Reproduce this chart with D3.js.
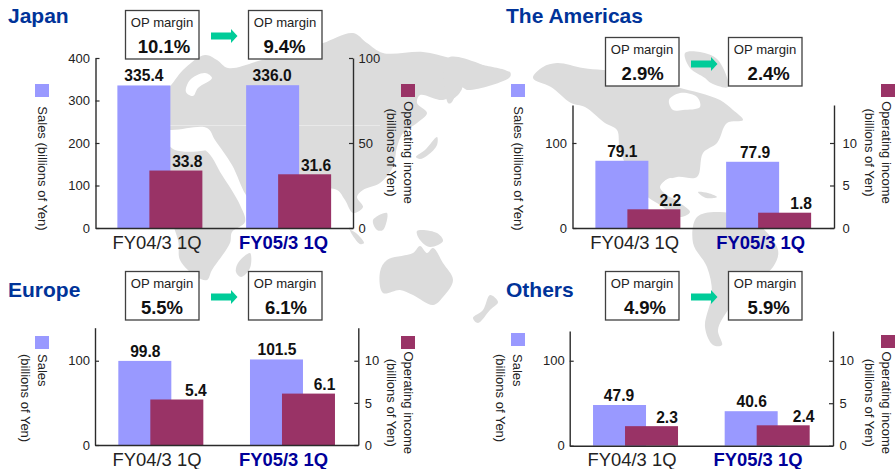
<!DOCTYPE html>
<html><head><meta charset="utf-8">
<script src="https://cdn.jsdelivr.net/npm/d3@7"></script>
<style>
html,body{margin:0;padding:0;background:#fff}
svg{display:block}
text{font-family:"Liberation Sans",Arial,sans-serif}
</style></head><body>
<svg id="c" width="896" height="469"></svg>
<script>
// ---- data ----
const regions = ["Japan", "The Americas", "Europe", "Others"];
const categories = ["FY04/3 1Q", "FY05/3 1Q"];
const salesValues = [[335.4, 336.0], [79.1, 77.9], [99.8, 101.5], [47.9, 40.6]];
const incomeValues = [[33.8, 31.6], [2.2, 1.8], [5.4, 6.1], [2.3, 2.4]];
const marginLabels = [["10.1%", "9.4%"], ["2.9%", "2.4%"], ["5.5%", "6.1%"], ["4.9%", "5.9%"]];
const salesTicks = [[0, 100, 200, 300, 400], [0, 100], [0, 100], [0, 100]];
const incomeTicks = [[0, 50, 100], [0, 5, 10], [0, 5, 10], [0, 5, 10]];
const salesMax = [400, 144.7, 139.2, 135];
const incomeMax = [100, 14.47, 13.92, 13.5];

// ---- layout (separate from the data) ----
const layout = [
 {title:[8,23], l:95.5, r:353, t:58, b:228, boxY:10, valDx:[2,-.5], arrowY:29, boxX:[125,248], arrowX:211,
  cat:[157,283.5], catY:248.5, lblS:[0,-.5], lblI:[11.5,11.5], sq:[35,401], sqY:[84,84], padL:5.5,padR:5.5,
  sales:{x:[37.5], y:168.5, mid:true, one:true}, inc:{y:152.5}, incX:[403.5,387], stack:false},
 {title:[506,22.5], l:572.5, r:834, t:105, b:228, boxY:37, valDx:[.7,3.7], arrowY:57, boxX:[605,728], arrowX:691,
  cat:[634.7,760.7], catY:248.5, lblS:[.5,2.5], lblI:[16.5,16.5], sq:[511,881], sqY:[84,84], padL:5.5,padR:8.5,
  sales:{x:[513.5], y:168.5, mid:true, one:true}, inc:{y:152.5}, incX:[882,865], stack:false},
 {title:[8,297], l:95, r:358.3, t:327.7, b:445, boxY:271, valDx:[0,1], arrowY:290, boxX:[125,248], arrowX:211,
  cat:[157,283.5], catY:465.5, lblS:[.5,.5], lblI:[19,16], sq:[35,401], sqY:[336,336], padL:5,padR:6.5,
  sales:{x:[37.7,20.7], y:354}, inc:{y:402.8}, incX:[403.5,387], stack:true},
 {title:[506,297], l:569.7, r:833, t:331, b:445.7, boxY:271, valDx:[3,3.7], arrowY:290, boxX:[605,728], arrowX:691,
  cat:[632,758], catY:465.5, lblS:[-.5,.5], lblI:[15.5,20.5], sq:[511,881], sqY:[333,335], padL:5,padR:6.5,
  sales:{x:[513,496], y:354}, inc:{y:402.8}, incX:[882,865], stack:true}
];

// decorative world-map background (outline only, not chart data)
const mapLand = [
 [[140,125],[150,96],[168,88],[183,70],[205,55],[217,60],[228,68],[262,60],[300,50],[323,43],[353,33],[367,43],[383,53],[423,52],[450,58],[483,65],[508,72],[500,78],[483,80],[470,82],[457,92],[443,100],[420,95],[417,103],[427,113],[417,123],[403,133],[397,147],[393,167],[380,183],[363,190],[357,197],[363,207],[353,213],[345,200],[337,190],[320,190],[300,205],[290,228],[275,205],[262,214],[246,195],[232,165],[215,140],[207,128],[170,130]],
 [[125,150],[170,141],[205,150],[222,175],[240,205],[245,222],[232,232],[230,243],[212,270],[207,280],[197,277],[180,260],[178,240],[160,200],[125,170]],
 [[238,263],[250,253],[250,268],[241,277],[236,272]],
 [[380,272],[387,260],[413,253],[420,246],[427,253],[433,248],[443,263],[453,280],[443,297],[433,305],[413,295],[400,290],[383,293]],
 [[490,295],[498,302],[490,310],[478,323],[473,318],[483,310]],
 [[417,231],[437,233],[443,241],[430,247],[420,240]],
 [[373,220],[387,213],[383,230],[377,230]],
 [[350,230],[356,233],[364,243],[360,244]],
 [[437,137],[437,145],[428,155],[420,159],[416,157],[425,150]],
 [[450,93],[462,88],[458,95],[450,100]],
 [[533,78],[543,67],[557,63],[583,68],[603,70],[640,72],[677,87],[700,93],[720,100],[733,110],[743,120],[727,123],[717,143],[703,153],[697,177],[677,177],[663,183],[667,193],[680,203],[690,212],[680,217],[660,205],[640,190],[620,150],[617,130],[605,123],[585,107],[571,103],[551,87]],
 [[685,53],[700,52],[718,60],[728,87],[711,83],[705,78],[690,68]],
 [[697,217],[720,212],[755,222],[778,250],[773,267],[745,290],[728,310],[718,330],[722,345],[713,345],[705,327],[712,293],[707,267],[693,243]],
 [[698,192],[708,193],[717,197],[706,198]],
 [[448,58],[500,71],[510,72],[510,77],[468,90],[461,87],[451,103],[448,103]]
];
const mapWater = [
 [[190,80],[205,73],[212,78],[198,88],[193,96],[186,92]],
 [[669,100],[680,93],[697,97],[700,107],[683,110],[673,110]],
 [[165,138],[205,133],[213,147],[175,150]],
 [[660,187],[671,178],[680,197],[672,198]]
];

const svg = d3.select("#c");
const closed = d3.line().curve(d3.curveCatmullRomClosed.alpha(.5));
const map = svg.append("g");
map.selectAll("path.l").data(mapLand).join("path").attr("class","l").attr("d",closed).attr("fill","#dcdcdc");
map.selectAll("path.w").data(mapWater).join("path").attr("class","w").attr("d",closed).attr("fill","#fff");
map.append("line").attr("x1",170).attr("x2",380).attr("y1",125.5).attr("y2",125.5).attr("stroke","#e9e9e9");

const AXIS = "#2b2b2b", SALES = "#9999ff", INCOME = "#993366", BAR = 53, SHIFT = 32, GROUP = 85;

regions.forEach((name, i) => {
  const L = layout[i], g = svg.append("g");
  g.append("text").attr("x",L.title[0]).attr("y",L.title[1]).attr("font-size",21).attr("font-weight","bold")
    .attr("fill","#003399").text(name);

  const x = d3.scaleBand().domain(categories).range([L.l, L.r]);
  const yS = d3.scaleLinear().domain([0, salesMax[i]]).range([L.b, L.t]);
  const yI = d3.scaleLinear().domain([0, incomeMax[i]]).range([L.b, L.t]);
  const gx = c => x(c) + (x.bandwidth() - GROUP) / 2;

  g.selectAll("rect.s").data(categories).join("rect").attr("class","s")
    .attr("x", gx).attr("width", BAR)
    .attr("y", (c,j) => yS(salesValues[i][j])).attr("height", (c,j) => L.b - yS(salesValues[i][j]))
    .attr("fill", SALES);
  g.selectAll("rect.i").data(categories).join("rect").attr("class","i")
    .attr("x", c => gx(c) + SHIFT).attr("width", BAR)
    .attr("y", (c,j) => yI(incomeValues[i][j])).attr("height", (c,j) => L.b - yI(incomeValues[i][j]))
    .attr("fill", INCOME);

  const style = a => {
    a.selectAll("path").attr("stroke", AXIS).attr("stroke-width", 1.4);
    a.selectAll("line").attr("stroke", AXIS).attr("stroke-width", 1.2);
    a.selectAll("text").attr("font-size", 13).attr("fill","#222").attr("font-family",'"Liberation Sans",Arial,sans-serif');
  };
  g.append("g").attr("transform",`translate(${L.l},0)`)
    .call(d3.axisLeft(yS).tickValues(salesTicks[i]).tickFormat(d3.format("d")).tickSizeInner(-4).tickSizeOuter(0).tickPadding(L.padL)).call(style);
  g.append("g").attr("transform",`translate(${L.r},0)`)
    .call(d3.axisRight(yI).tickValues(incomeTicks[i]).tickFormat(d3.format("d")).tickSizeInner(-4).tickSizeOuter(0).tickPadding(L.padR)).call(style);
  g.append("g").attr("transform",`translate(0,${L.b})`)
    .call(d3.axisBottom(x).tickSize(0).tickFormat("")).call(style);

  categories.forEach((c,j) => {
    g.append("text").attr("x",L.cat[j]).attr("y",L.catY).attr("text-anchor","middle").attr("font-size",18.4)
      .attr("font-weight", j ? "bold" : "normal").attr("fill", j ? "#000099" : "#222").text(c);
    const bx = gx(c);
    g.append("text").attr("x",bx + BAR/2 + L.lblS[j]).attr("y",yS(salesValues[i][j]) - 4).attr("text-anchor","middle")
      .attr("font-size",15.6).attr("font-weight","bold").attr("fill","#111").text(salesValues[i][j].toFixed(1));
    g.append("text").attr("x",bx + SHIFT + BAR/2 + L.lblI[j]).attr("y",yI(incomeValues[i][j]) - 3.5).attr("text-anchor","middle")
      .attr("font-size",15.6).attr("font-weight","bold").attr("fill","#111").text(incomeValues[i][j].toFixed(1));

    const bX = L.boxX[j];
    g.append("rect").attr("x",bX+.5).attr("y",L.boxY+.5).attr("width",73.5).attr("height",48.5)
      .attr("fill","#fff").attr("stroke","#404040").attr("stroke-width",1.3);
    g.append("text").attr("x",bX+37).attr("y",L.boxY+17).attr("text-anchor","middle").attr("font-size",13.1)
      .attr("fill","#222").text("OP margin");
    g.append("text").attr("x",bX+37+L.valDx[j]).attr("y",L.boxY+42.5).attr("text-anchor","middle").attr("font-size",18.5)
      .attr("font-weight","bold").attr("fill","#111").text(marginLabels[i][j]);
  });

  const ax = L.arrowX, ay = L.arrowY;
  g.append("path").attr("fill","#00cc99")
    .attr("d",`M${ax},${ay+3.5}H${ax+20}V${ay}L${ax+26.5},${ay+7}L${ax+20},${ay+14}V${ay+10.5}H${ax}Z`);

  g.append("rect").attr("x",L.sq[0]).attr("y",L.sqY[0]).attr("width",14).attr("height",13).attr("fill",SALES);
  g.append("rect").attr("x",L.sq[1]).attr("y",L.sqY[1]).attr("width",14).attr("height",13).attr("fill",INCOME);
  const rot = (px,py,t,anchor) => g.append("text").attr("transform",`translate(${px},${py}) rotate(90)`)
    .attr("text-anchor",anchor).attr("font-size",13).attr("fill","#222").text(t);
  if (L.stack) {
    rot(L.sales.x[0], L.sales.y, "Sales", "start");
    rot(L.sales.x[1], L.sales.y, "(billions of Yen)", "start");
  } else {
    rot(L.sales.x[0], L.sales.y, "Sales (billions of Yen)", "middle");
  }
  rot(L.incX[0], L.inc.y, "Operating income", "middle");
  rot(L.incX[1], L.inc.y, "(billions of Yen)", "middle");
});
</script>
</body></html>
